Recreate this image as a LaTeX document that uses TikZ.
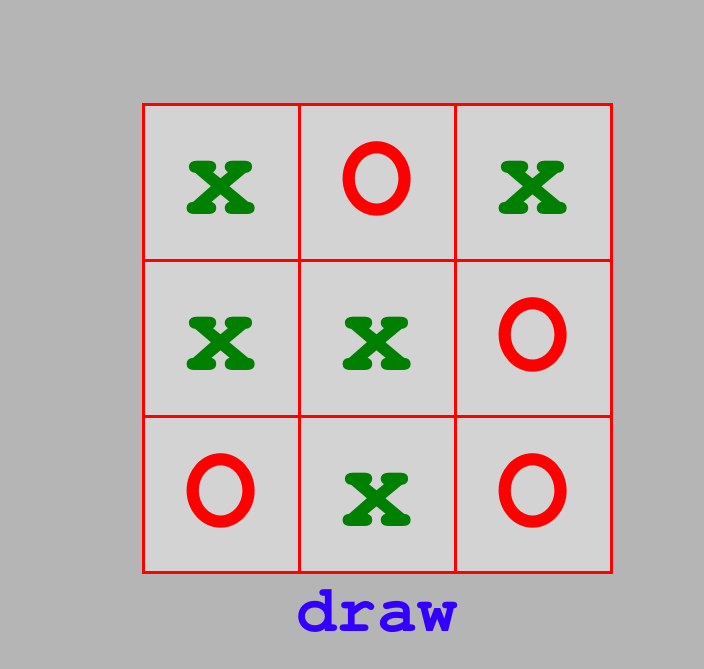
\documentclass[tikz,border=0pt]{standalone}
\usepackage{fontspec}
\newfontfamily\monob{TeX Gyre Cursor}
\definecolor{bggray}{RGB}{181,181,181}
\definecolor{cellgray}{RGB}{211,211,211}
\definecolor{xgreen}{RGB}{0,128,0}
\definecolor{ored}{RGB}{255,0,0}
\definecolor{tblue}{RGB}{51,0,255}
\tikzset{
  cell/.style={draw=ored, line width=3pt, fill=cellgray, minimum size=156pt, inner sep=0pt, outer sep=0pt},
  markx/.style={anchor=base, inner sep=0pt, text=xgreen, font=\monob\bfseries\fontsize{122}{122}\selectfont},
  marko/.style={anchor=base, inner sep=0pt, text=ored, font=\monob\bfseries\fontsize{122}{122}\selectfont},
  result/.style={anchor=base, inner sep=0pt, text=tblue, font=\monob\bfseries\fontsize{67}{67}\selectfont}
}
\begin{document}
\begin{tikzpicture}[x=1pt,y=1pt]
\fill[bggray] (0,0) rectangle (704,669);
\useasboundingbox (0,0) rectangle (704,669);
% cells: columns centers 221,377,533; rows centers (img) 182.5,338.5,494.5
\node[cell] (c11) at (221,486.5) {};
\node[cell] (c12) at (377,486.5) {};
\node[cell] (c13) at (533,486.5) {};
\node[cell] (c21) at (221,330.5) {};
\node[cell] (c22) at (377,330.5) {};
\node[cell] (c23) at (533,330.5) {};
\node[cell] (c31) at (221,174.5) {};
\node[cell] (c32) at (377,174.5) {};
\node[cell] (c33) at (533,174.5) {};
\node[markx] (m11) at ([yshift=-32pt]c11.center) {x};
\node[marko] (m12) at ([yshift=-32pt]c12.center) {O};
\node[markx] (m13) at ([yshift=-32pt]c13.center) {x};
\node[markx] (m21) at ([yshift=-32pt]c21.center) {x};
\node[markx] (m22) at ([yshift=-32pt]c22.center) {x};
\node[marko] (m23) at ([yshift=-32pt]c23.center) {O};
\node[marko] (m31) at ([yshift=-32pt]c31.center) {O};
\node[markx] (m32) at ([yshift=-32pt]c32.center) {x};
\node[marko] (m33) at ([yshift=-32pt]c33.center) {O};
\node[result] (res) at (377,37) {draw};
\end{tikzpicture}
\end{document}
